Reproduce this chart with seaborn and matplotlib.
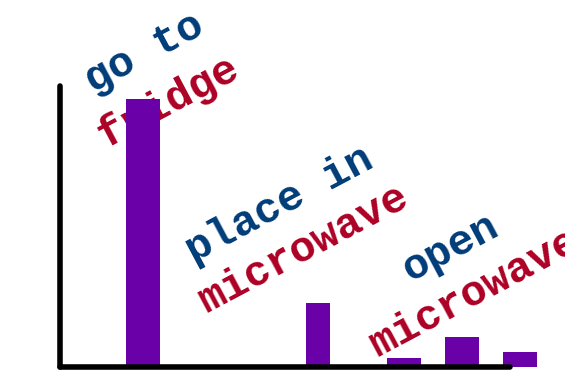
import matplotlib
matplotlib.use("Agg")
import matplotlib.pyplot as plt
import seaborn as sns
import pandas as pd

# ---- data ----
step_pos = [1.43, 4.45, 5.93, 6.93, 7.93]
shares = [0.69, 0.165, 0.023, 0.078, 0.039]
label_top = ["go to", "place in", "open"]
label_bottom = ["fridge", "microwave", "microwave"]

BAR = "#6a00a8"
BLUE = "#003c78"
RED = "#ad0025"

W, H = 565, 382
sns.set_theme(style="white")
fig = plt.figure(figsize=(W / 100, H / 100), dpi=100)
ax = fig.add_axes([60 / W, (H - 367) / H, 450 / W, (367 - 86) / H])

df = pd.DataFrame({"x": step_pos, "y": shares})
sns.barplot(data=df, x="x", y="y", native_scale=True, color=BAR,
            saturation=1, width=0.586, linewidth=0, ax=ax)
for p in ax.patches:
    p.set_clip_on(False)
    p.set_zorder(2)
# second bar is narrower
p2 = ax.patches[1]
cx = p2.get_x() + p2.get_width() / 2
p2.set_width(0.414)
p2.set_x(cx - 0.207)

ax.set_xlim(0, 450 / 58)
ax.set_ylim(0, 0.69 * 281 / 268)
ax.set_xticks([])
ax.set_yticks([])
ax.set_xlabel("")
ax.set_ylabel("")
for s in ["top", "right"]:
    ax.spines[s].set_visible(False)
for s in ["left", "bottom"]:
    ax.spines[s].set_linewidth(4)
    ax.spines[s].set_color("black")
    ax.spines[s].set_capstyle("round")
    ax.spines[s].set_zorder(3)
ax.patch.set_alpha(0)

font = dict(family="Liberation Mono", weight="bold", fontsize=31,
            rotation=28, rotation_mode="anchor", ha="center", va="baseline",
            transform=fig.transFigure, clip_on=False, zorder=1)
top_xy = [(150, 63), (285, 215), (455, 258)]
bot_xy = [(173, 112), (309, 259), (480, 303)]
for t, (x, y) in zip(label_top, top_xy):
    ax.text(x / W, 1 - y / H, t, color=BLUE, **font)
for t, (x, y) in zip(label_bottom, bot_xy):
    ax.text(x / W, 1 - y / H, t, color=RED, **font)

fig.savefig("out.png", dpi=100)
